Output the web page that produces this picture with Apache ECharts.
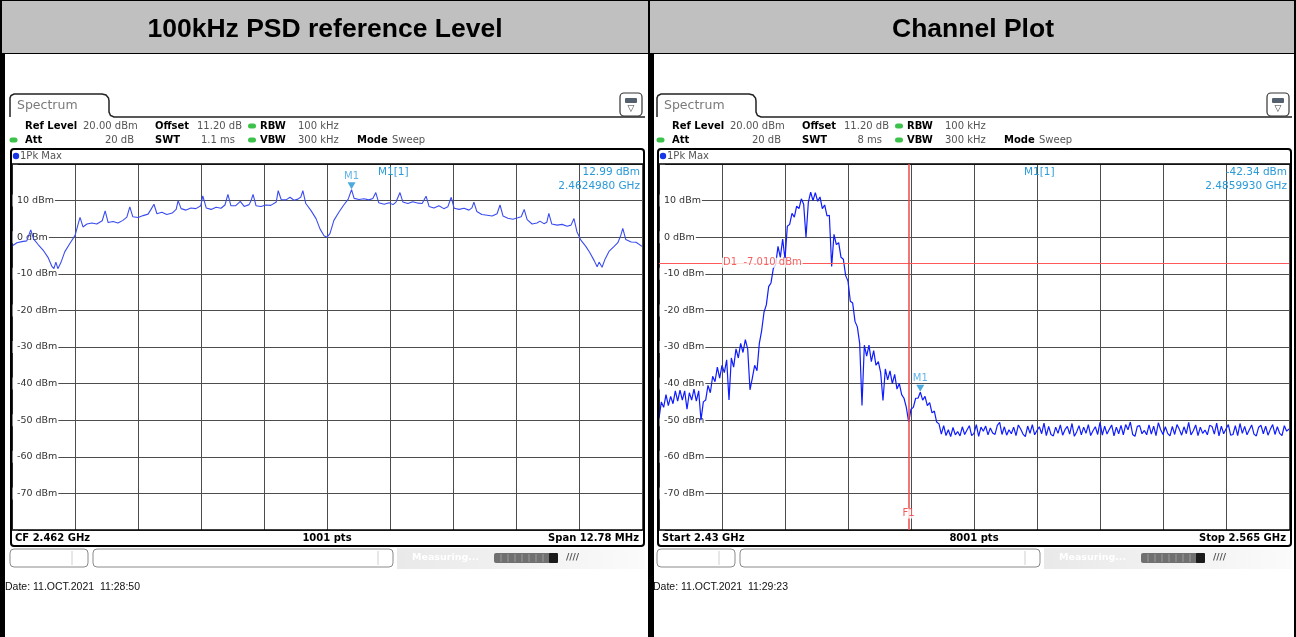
<!DOCTYPE html>
<html><head><meta charset="utf-8">
<script src="https://cdn.jsdelivr.net/npm/echarts@6/dist/echarts.min.js"></script>
<style>html,body{margin:0;padding:0;background:#fff}#c{width:1296px;height:637px}</style>
</head><body><div id="c"></div>
<script>
// ---- column titles ----
const titles = ['100kHz PSD reference Level', 'Channel Plot'];

// ---- level axis (dBm) ----
const levelMin = -80, levelMax = 20, levelStep = 10;

// ---- 100 kHz PSD sweep: CF 2462 MHz, span 12.78 MHz; [offset from CF (MHz), level (dBm)] ----
const psdCenterMHz = 2462;
const psdSpanMHz = 12.78;
const psdTrace = [
  [-6.39,-2.4],[-6.29,-1.5],[-6.19,-1.2],[-6.09,-1.0],[-6.01,2.0],[-5.95,-0.5],[-5.86,-2.0],[-5.76,-3.5],
  [-5.66,-5.5],[-5.58,-8.0],[-5.54,-8.6],[-5.50,-6.8],[-5.46,-8.6],[-5.40,-7.0],[-5.32,-4.0],[-5.21,-1.6],
  [-5.11,0.5],[-5.05,3.5],[-5.01,5.4],[-4.95,2.8],[-4.87,3.6],[-4.77,3.9],[-4.67,3.6],[-4.56,4.5],
  [-4.50,7.2],[-4.44,4.0],[-4.34,4.3],[-4.24,3.9],[-4.14,4.6],[-4.06,5.5],[-4.00,8.3],[-3.94,5.6],
  [-3.83,5.4],[-3.73,5.9],[-3.63,6.3],[-3.57,7.6],[-3.51,9.0],[-3.45,6.4],[-3.35,6.8],[-3.25,6.2],
  [-3.14,6.6],[-3.06,7.6],[-3.02,10.0],[-2.96,7.8],[-2.86,7.4],[-2.76,8.0],[-2.66,7.8],[-2.56,8.6],
  [-2.52,11.3],[-2.45,8.0],[-2.35,7.6],[-2.25,8.2],[-2.15,7.9],[-2.07,8.8],[-2.01,11.7],[-1.95,8.6],
  [-1.85,8.6],[-1.76,9.8],[-1.68,8.4],[-1.58,8.9],[-1.54,10.0],[-1.50,11.7],[-1.44,8.6],[-1.34,8.4],
  [-1.24,8.8],[-1.14,8.7],[-1.03,9.6],[-0.99,12.7],[-0.93,10.3],[-0.83,10.2],[-0.75,10.9],[-0.67,10.1],
  [-0.59,10.4],[-0.53,11.0],[-0.49,12.7],[-0.43,9.2],[-0.32,7.2],[-0.22,5.0],[-0.14,2.2],[-0.06,0.4],
  [0.00,0.0],[0.06,1.0],[0.14,4.6],[0.24,6.8],[0.34,8.8],[0.43,10.4],[0.498,12.99],[0.55,10.6],
  [0.65,10.3],[0.75,10.5],[0.85,10.2],[0.93,10.6],[0.99,12.2],[1.05,9.4],[1.16,9.0],[1.26,9.4],
  [1.34,8.9],[1.40,9.6],[1.48,12.2],[1.54,9.6],[1.64,9.2],[1.74,9.7],[1.85,9.3],[1.93,9.2],
  [2.01,11.2],[2.07,8.4],[2.17,8.0],[2.27,8.6],[2.37,7.8],[2.45,8.3],[2.52,10.9],[2.58,7.9],
  [2.68,7.6],[2.78,7.9],[2.88,7.4],[2.94,8.0],[2.98,9.6],[3.04,7.0],[3.14,6.2],[3.25,6.0],
  [3.35,5.8],[3.45,6.4],[3.51,8.8],[3.57,5.8],[3.67,5.2],[3.77,4.9],[3.87,5.3],[3.94,5.6],
  [4.00,7.6],[4.06,4.8],[4.16,3.6],[4.26,3.9],[4.32,4.4],[4.40,3.7],[4.46,4.1],[4.50,6.5],
  [4.56,3.6],[4.67,3.3],[4.77,3.5],[4.87,3.0],[4.95,3.3],[5.01,5.1],[5.07,1.5],[5.15,-0.8],
  [5.25,-2.5],[5.33,-4.2],[5.42,-6.4],[5.48,-8.1],[5.52,-6.8],[5.58,-8.2],[5.64,-6.0],[5.72,-3.9],
  [5.82,-2.6],[5.90,-1.5],[5.96,0.5],[6.00,2.4],[6.06,-0.6],[6.17,-1.3],[6.27,-1.4],[6.39,-2.5]
];
const psdMarker = [0.498, 12.99];   // M1: offset (MHz), level (dBm)

// ---- channel sweep: 2430 .. 2565 MHz, one level every 0.5 MHz (dBm, peak/valley of each bin) ----
const chStartMHz = 2430, chStopMHz = 2565, chStepMHz = 0.5;
const chLevelDbm = [
  -49.5,-45.0,-46.5,-43.0,-46.0,-43.5,-45.5,-42.0,-44.8,-41.8,
  -44.5,-42.0,-47.0,-42.5,-44.5,-41.5,-44.8,-42.0,-50.0,-45.0,
  -44.5,-40.5,-42.5,-38.0,-39.5,-35.5,-38.5,-35.0,-37.0,-33.5,
  -44.5,-33.0,-35.5,-30.5,-33.0,-29.0,-31.5,-28.0,-30.5,-41.7,
  -38.5,-35.0,-36.5,-29.0,-25.5,-20.5,-18.5,-13.5,-12.5,-8.5,
  -7.5,-2.5,-5.5,-0.5,-6.0,3.0,3.5,6.5,5.5,8.5,
  7.8,10.5,9.0,0.0,9.5,12.3,10.0,12.2,9.8,11.0,
  7.8,8.8,5.8,6.0,-8.0,0.8,-2.0,-1.5,-5.5,-6.0,
  -10.5,-12.0,-17.5,-18.0,-23.0,-24.5,-29.0,-46.0,-29.5,-32.5,
  -29.5,-34.0,-31.0,-35.0,-34.0,-37.0,-44.6,-36.0,-39.0,-36.5,
  -40.0,-37.5,-41.5,-40.0,-43.0,-44.0,-46.5,-50.5,-47.0,-46.5,
  -44.0,-44.0,-42.34,-44.5,-43.5,-46.0,-45.2,-48.0,-47.5,-50.5,
  -51.0,-53.8,-51.5,-54.2,-52.6,-54.5,-52.0,-54.0,-53.1,-54.3,
  -51.8,-53.9,-52.7,-51.5,-54.2,-53.6,-51.2,-54.4,-51.9,-53.0,
  -51.6,-54.0,-52.1,-53.5,-53.9,-51.4,-50.6,-53.9,-51.8,-54.1,
  -52.6,-53.7,-51.9,-54.2,-51.3,-52.4,-53.8,-54.5,-51.6,-53.6,
  -51.2,-54.0,-52.8,-51.8,-53.7,-50.8,-54.2,-51.7,-53.9,-54.3,
  -51.9,-53.6,-51.3,-54.1,-52.6,-51.7,-53.8,-50.9,-54.4,-53.2,
  -51.5,-54.0,-51.9,-53.6,-51.2,-54.2,-52.9,-51.8,-53.9,-50.6,
  -54.1,-51.6,-53.8,-52.5,-51.3,-54.3,-51.9,-53.7,-51.4,-54.0,
  -51.2,-52.6,-50.5,-53.9,-54.4,-51.7,-51.5,-53.7,-52.8,-54.0,
  -51.3,-53.8,-51.6,-54.2,-50.7,-52.6,-53.9,-51.8,-53.6,-54.3,
  -51.7,-53.9,-51.2,-52.5,-54.1,-51.8,-53.7,-50.6,-54.0,-52.9,
  -51.3,-54.2,-51.9,-53.6,-52.7,-54.0,-51.4,-51.7,-53.8,-50.8,
  -54.3,-51.6,-53.7,-52.4,-51.2,-54.1,-53.9,-51.5,-54.2,-50.9,
  -53.6,-51.7,-54.0,-52.6,-51.3,-53.8,-54.3,-51.9,-51.4,-53.7,
  -51.6,-54.1,-52.5,-51.2,-53.9,-51.8,-53.6,-54.2,-51.5,-53.0,
  -52.4
];
const chMarker = [2485.993, -42.34];  // M1: frequency (MHz), level (dBm)
const d1Level = -7.01;                 // display line D1 (dBm)
const f1FreqMHz = 2483.5;              // frequency line F1 (MHz)

// ---- setup panel texts ----
const setupRows = [
  { sweepTime: '1.1 ms', footer: ['CF 2.462 GHz', '1001 pts', 'Span 12.78 MHz'], date: 'Date: 11.OCT.2021  11:28:50' },
  { sweepTime: '8 ms',   footer: ['Start 2.43 GHz', '8001 pts', 'Stop 2.565 GHz'], date: 'Date: 11.OCT.2021  11:29:23' }
];

const chTrace = chLevelDbm.map((v, i) => [chStartMHz + i * chStepMHz, v]);

// ---------------------------------------------------------------
const FONT = 'DejaVu Sans';
const GRIDC = '#4d4d4d';
const MKC = '#1f95d6';
const panelX = [0, 647];
const plotTop = 164, plotH = 366, plotW = 630;

function txt(x, y, s, o) {
  o = o || {};
  return { type: 'text', x: x, y: y, z: o.z || 10, silent: true,
    style: { text: s, fontFamily: o.ff || FONT, fontSize: o.fs || 10, fontWeight: o.fw || 'normal',
      fill: o.c || '#000', align: o.a || 'left', verticalAlign: 'middle' } };
}
function rect(x, y, w, h, fill, stroke, lw, r, z) {
  return { type: 'rect', z: z == null ? 1 : z, silent: true, shape: { x: x, y: y, width: w, height: h, r: r || 0 },
    style: { fill: fill || 'none', stroke: stroke || 'none', lineWidth: lw || 1 } };
}
function seg(x1, y1, x2, y2, c, w, z) {
  return { type: 'line', z: z == null ? 1 : z, silent: true, shape: { x1: x1, y1: y1, x2: x2, y2: y2 },
    style: { stroke: c, lineWidth: w || 1 } };
}
function dot(cx, cy, r, c) {
  return { type: 'circle', z: 5, silent: true, shape: { cx: cx, cy: cy, r: r }, style: { fill: c } };
}
function led(cx, cy) {
  return rect(cx - 4, cy - 2.5, 8, 5, '#3cc24a', null, 1, 2.5, 5);
}

const G = [];
// table header
G.push(rect(0, 0, 1296, 53, '#c0c0c0', null, 1, 0, 0));
G.push(seg(0, 0.5, 1296, 0.5, '#000', 1));
G.push(seg(0, 53.5, 1296, 53.5, '#000', 1));
G.push(seg(1295, 0, 1295, 637, '#000', 2));
G.push(seg(649, 0, 649, 637, '#000', 2));
G.push(seg(1, 0, 1, 637, '#000', 2));
titles.forEach((t, i) => G.push(txt(i === 0 ? 325 : 973, 30, t, { ff: 'Liberation Sans', fs: 26.5, fw: 'bold', a: 'center' })));

panelX.forEach((ox, p) => {
  const s = setupRows[p];
  // dark frame edge
  G.push(rect(ox + (p === 0 ? 1 : 3), 54, 4, 583, '#000', null, 1, 0, 1));
  // tab outline and header rule
  G.push({ type: 'polyline', z: 2, silent: true,
    shape: { points: [[ox + 10, 117], [ox + 10, 98], [ox + 11, 95.5], [ox + 14, 94], [ox + 102, 94], [ox + 106, 95],
      [ox + 108.5, 98], [ox + 109, 101], [ox + 109, 112], [ox + 110.5, 115.5], [ox + 114, 117], [ox + 645, 117]] },
    style: { fill: 'none', stroke: '#222', lineWidth: 1.5 } });
  G.push(txt(ox + 17, 106, 'Spectrum', { fs: 12.5, c: '#7a7a7a' }));
  // menu icon
  G.push(rect(ox + 620, 93, 22, 23, '#fff', '#333', 1.2, 4, 2));
  G.push(rect(ox + 625, 98, 12, 5, '#55606e', null, 1, 1, 3));
  G.push(txt(ox + 631, 109, '\u25BD', { fs: 9, c: '#333', a: 'center' }));
  // setup rows
  G.push(txt(ox + 25, 126, 'Ref Level', { fw: 'bold' }));
  G.push(txt(ox + 83, 126, '20.00 dBm', { c: '#555' }));
  G.push(txt(ox + 155, 126, 'Offset', { fw: 'bold' }));
  G.push(txt(ox + 197, 126, '11.20 dB', { c: '#555' }));
  G.push(led(ox + 252, 126));
  G.push(txt(ox + 260, 126, 'RBW', { fw: 'bold' }));
  G.push(txt(ox + 298, 126, '100 kHz', { c: '#555' }));
  G.push(led(ox + 13.5, 140));
  G.push(txt(ox + 25, 140, 'Att', { fw: 'bold' }));
  G.push(txt(ox + 134, 140, '20 dB', { c: '#555', a: 'right' }));
  G.push(txt(ox + 155, 140, 'SWT', { fw: 'bold' }));
  G.push(txt(ox + 235, 140, s.sweepTime, { c: '#555', a: 'right' }));
  G.push(led(ox + 252, 140));
  G.push(txt(ox + 260, 140, 'VBW', { fw: 'bold' }));
  G.push(txt(ox + 298, 140, '300 kHz', { c: '#555' }));
  G.push(txt(ox + 357, 140, 'Mode', { fw: 'bold' }));
  G.push(txt(ox + 392, 140, 'Sweep', { c: '#555' }));
  // plot frame
  G.push(rect(ox + 11, 149, 633, 397, 'none', '#000', 2, 3, 4));
  G.push(dot(ox + 16, 156, 3.2, '#1636e8'));
  G.push(txt(ox + 20, 156, '1Pk Max', { c: '#555' }));
  G.push(seg(ox + 11, plotTop, ox + 644, plotTop, '#000', 1.5, 4));
  G.push(seg(ox + 11, plotTop + plotH, ox + 644, plotTop + plotH, '#000', 1.5, 4));
  G.push(seg(ox + 12, plotTop, ox + 12, plotTop + plotH, '#000', 1, 4));
  // footer
  G.push(txt(ox + 15, 538, s.footer[0], { fw: 'bold' }));
  G.push(txt(ox + 327, 538, s.footer[1], { fw: 'bold', a: 'center' }));
  G.push(txt(ox + 639, 538, s.footer[2], { fw: 'bold', a: 'right' }));
  // status bar
  G.push(rect(ox + 10, 549, 78, 18, '#fff', '#8a8a8a', 1, 4, 2));
  G.push(seg(ox + 72, 551, ox + 72, 565, '#d0d0d0', 1, 3));
  G.push(rect(ox + 93, 549, 300, 18, '#fff', '#8a8a8a', 1, 4, 2));
  G.push(seg(ox + 378, 551, ox + 378, 565, '#d0d0d0', 1, 3));
  G.push({ type: 'rect', z: 1, silent: true, shape: { x: ox + 397, y: 548, width: 248, height: 21 },
    style: { fill: { type: 'linear', x: 0, y: 0, x2: 1, y2: 0, colorStops: [
      { offset: 0, color: '#e9e9e9' }, { offset: 0.6, color: '#f3f3f3' }, { offset: 1, color: '#fbfbfb' }] } } });
  G.push(txt(ox + 412, 558, 'Measuring...', { fs: 9.5, c: '#ffffff', fw: 'bold' }));
  G.push(rect(ox + 494, 553, 62, 10, '#707070', null, 1, 2, 2));
  for (let k = 1; k < 8; k++) G.push(seg(ox + 494 + k * 7, 554, ox + 494 + k * 7, 562, '#9a9a9a', 1, 3));
  G.push(rect(ox + 549, 553, 9, 10, '#1a1a1a', null, 1, 1, 3));
  G.push(txt(ox + 566, 558, '////', { fs: 9, c: '#555', fw: 'bold' }));
  // date stamp
  G.push(txt(ox + 5 + (p === 0 ? 0 : 1), 587, s.date, { ff: 'Liberation Sans', fs: 10.5, c: '#111' }));
});

// marker readouts
G.push(txt(378, 172, 'M1[1]', { c: '#2a9ad8', fs: 10.5 }));
G.push(txt(640, 172, psdMarker[1].toFixed(2) + ' dBm', { c: '#2a9ad8', fs: 10.5, a: 'right' }));
G.push(txt(640, 186, ((psdCenterMHz + psdMarker[0]) / 1000).toFixed(7) + ' GHz', { c: '#2a9ad8', fs: 10.5, a: 'right' }));
G.push(txt(1024, 172, 'M1[1]', { c: '#2a9ad8', fs: 10.5 }));
G.push(txt(1287, 172, chMarker[1].toFixed(2) + ' dBm', { c: '#2a9ad8', fs: 10.5, a: 'right' }));
G.push(txt(1287, 186, (chMarker[0] / 1000).toFixed(7) + ' GHz', { c: '#2a9ad8', fs: 10.5, a: 'right' }));

// ---------------------------------------------------------------
const grids = panelX.map(ox => ({ left: ox + 12, top: plotTop, width: plotW, height: plotH }));
const xAxes = [
  { gridIndex: 0, type: 'value', min: -psdSpanMHz / 2, max: psdSpanMHz / 2, interval: psdSpanMHz / 10 },
  { gridIndex: 1, type: 'value', min: chStartMHz, max: chStopMHz, interval: (chStopMHz - chStartMHz) / 10 }
].map(a => Object.assign(a, {
  axisLine: { show: false }, axisTick: { show: false }, axisLabel: { show: false },
  splitLine: { show: true, lineStyle: { color: GRIDC, width: 1 } }
}));
const yAxes = [0, 1].map(i => ({
  gridIndex: i, type: 'value', min: levelMin, max: levelMax, interval: levelStep,
  axisLine: { show: false }, axisTick: { show: false },
  axisLabel: { inside: true, margin: 0, color: '#333', fontFamily: FONT, fontSize: 9.5,
    backgroundColor: '#fff', padding: [1, 1, 1, 5],
    formatter: v => (v === levelMax || v === levelMin) ? '' : v + ' dBm' },
  splitLine: { show: true, lineStyle: { color: GRIDC, width: 1 } }
}));

const triPath = 'path://M0,0 L10,0 L5,8 Z';
const mkLabel = { show: true, formatter: 'M1', position: 'top', distance: 1, color: '#3aa0e0', fontSize: 10, fontFamily: FONT };

const option = {
  animation: false,
  backgroundColor: '#fff',
  grid: grids,
  xAxis: xAxes,
  yAxis: yAxes,
  graphic: G,
  series: [
    { type: 'line', xAxisIndex: 0, yAxisIndex: 0, data: psdTrace, symbol: 'none', z: 3,
      lineStyle: { color: '#3a4cf0', width: 1.1 } },
    { type: 'scatter', xAxisIndex: 0, yAxisIndex: 0, data: [psdMarker], symbol: triPath, symbolSize: [8, 7],
      symbolOffset: [0, -4], itemStyle: { color: MKC }, label: mkLabel, z: 6 },
    { type: 'line', xAxisIndex: 1, yAxisIndex: 1, data: chTrace, symbol: 'none', z: 3,
      lineStyle: { color: '#0f1cff', width: 1.2 },
      markLine: { silent: true, symbol: 'none', label: { show: false }, data: [
        { yAxis: d1Level, lineStyle: { color: '#ff5a5a', width: 1, type: 'solid' } },
        { xAxis: f1FreqMHz, lineStyle: { color: '#ee4848', width: 1.5, type: 'solid' } }
      ] } },
    { type: 'scatter', xAxisIndex: 1, yAxisIndex: 1, data: [chMarker], symbol: triPath, symbolSize: [8, 7],
      symbolOffset: [0, -4], itemStyle: { color: MKC }, label: mkLabel, z: 6 },
    { type: 'scatter', xAxisIndex: 1, yAxisIndex: 1, symbolSize: 0, z: 8, silent: true, data: [
      { value: [chStartMHz + (chStopMHz - chStartMHz) / 10, d1Level],
        label: { show: true, position: 'right', distance: 0, formatter: 'D1  ' + d1Level.toFixed(3) + ' dBm',
          color: '#f03a3a', fontFamily: FONT, fontSize: 10, backgroundColor: '#fff', padding: [0, 1, 0, 1] } },
      { value: [f1FreqMHz, -75.5],
        label: { show: true, position: 'inside', formatter: 'F1', color: '#e83030', fontFamily: FONT, fontSize: 10,
          backgroundColor: '#fff', padding: [0, 1, 0, 1] } }
    ] }
  ]
};

const chart = echarts.init(document.getElementById('c'));
chart.setOption(option);
</script></body></html>
